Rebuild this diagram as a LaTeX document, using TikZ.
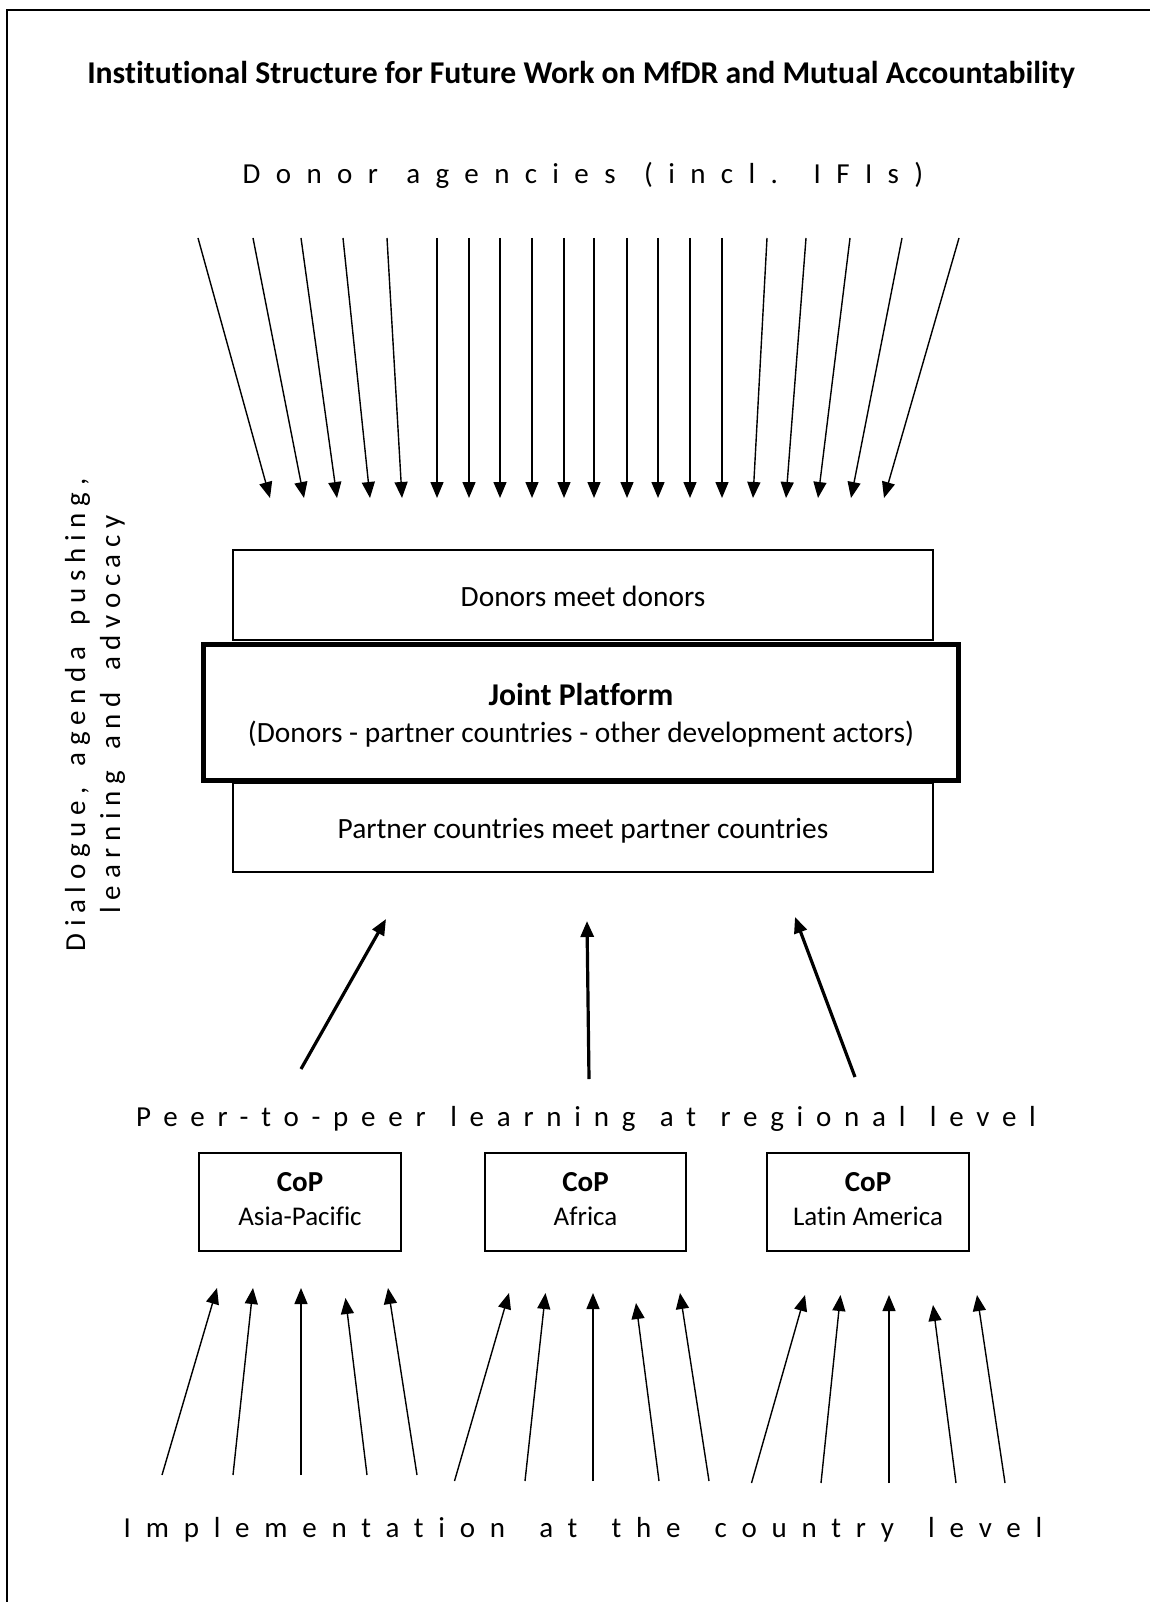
\documentclass[tikz,border=0pt]{standalone}
\usepackage{fontspec}
\setmainfont{Carlito}[RawFeature={-liga}]
\newfontfamily\spdonor[LetterSpace=53, WordSpace=1.3, RawFeature={-liga}]{Carlito}
\newfontfamily\sppeer[LetterSpace=44, WordSpace=1.27, RawFeature={-liga}]{Carlito}
\newfontfamily\spimpl[LetterSpace=51, WordSpace=1.6, RawFeature={-liga}]{Carlito}
\newfontfamily\spdial[LetterSpace=23, WordSpace=1.6, RawFeature={-liga}]{Carlito}
\usetikzlibrary{arrows.meta}
\tikzset{
  txt/.style={inner sep=0pt, anchor=base, font=\fontsize{29.4}{35}\selectfont},
  bigbold/.style={font=\fontsize{31.7}{38}\selectfont\bfseries},
  spaced/.style={inner sep=0pt, anchor=base, font=\fontsize{29}{35}\selectfont#1},
  box/.style={draw, line width=1.4pt, inner sep=0pt, fill=white},
  thinarrow/.style={line width=1.4pt, -{Triangle[length=16pt,width=13pt]}},
  thickarrow/.style={line width=3.2pt, -{Triangle[length=16pt,width=13pt]}},
}
\begin{document}
\begin{tikzpicture}[x=1pt,y=-1pt]
\useasboundingbox (0,0) rectangle (1150,1602);
\coordinate (frameA) at (7,1602);
\coordinate (frameB) at (7,10);
\coordinate (frameC) at (1150,10);
\draw[line width=2pt] (frameA) -- (frameB) -- (frameC);

% title and level labels
\node[txt, bigbold] (title) at (581,84) {Institutional Structure for Future Work on MfDR and Mutual Accountability};
\node[spaced=\spdonor] (donors) at (583,184) {Donor agencies (incl. IFIs)};
\node[spaced=\sppeer] (peer) at (586,1126) {Peer-to-peer learning at regional level};
\node[spaced=\spimpl] (impl) at (583,1537) {Implementation at the country level};
\node[spaced=\spdial, rotate=90] (dial1) at (85,715) {Dialogue, agenda pushing,};
\node[spaced=\spdial, rotate=90] (dial2) at (120,714.5) {learning and advocacy};

% top arrows
\foreach \i/\sx/\tx in {1/198/270, 2/253/304, 3/301/337, 4/343/370, 5/387/402,
  6/437/437, 7/469/469, 8/500/500, 9/532/532, 10/564/564, 11/594/594,
  12/627/627, 13/658/658, 14/690/690, 15/722/722, 16/767/753, 17/806/786,
  18/850/818, 19/902/851, 20/959/884} {
  \coordinate (ds\i) at (\sx,238);
  \coordinate (dt\i) at (\tx,498);
  \draw[thinarrow] (ds\i) -- (dt\i);
}

% platform boxes
\node[box, minimum width=700pt, minimum height=90pt] (dmd) at (583,595) {};
\node[box, minimum width=700pt, minimum height=89pt] (pmp) at (583,827.5) {};
\node[box, line width=5pt, minimum width=755pt, minimum height=136pt] (joint) at (581,712.5) {};
\node[txt] (dmdt) at (583,606) {Donors meet donors};
\node[txt, bigbold] (jointa) at (581,705) {Joint Platform};
\node[txt] (jointb) at (581,742) {(Donors - partner countries - other development actors)};
\node[txt] (pmpt) at (583,838) {Partner countries meet partner countries};

% thick arrows
\coordinate (ma1) at (301,1069); \coordinate (mb1) at (386,919);
\coordinate (ma2) at (589,1079); \coordinate (mb2) at (587,921);
\coordinate (ma3) at (855,1077); \coordinate (mb3) at (795,917);
\foreach \i in {1,2,3} { \draw[thickarrow] (ma\i) -- (mb\i); }

% CoP boxes
\node[box, minimum width=202pt, minimum height=98pt] (cop1) at (300,1202) {};
\node[box, minimum width=201pt, minimum height=98pt] (cop2) at (585.5,1202) {};
\node[box, minimum width=202pt, minimum height=98pt] (cop3) at (868,1202) {};
\tikzset{copname/.style={txt, font=\fontsize{29}{35}\selectfont\bfseries},
         copreg/.style={txt, font=\fontsize{27}{33}\selectfont}}
\node[copname] (cop1a) at (300,1191) {CoP};
\node[copreg] (cop1b) at (300,1225) {Asia-Pacific};
\node[copname] (cop2a) at (585.5,1191) {CoP};
\node[copreg] (cop2b) at (585.5,1225) {Africa};
\node[copname] (cop3a) at (868,1191) {CoP};
\node[copreg] (cop3b) at (868,1225) {Latin America};

% bottom arrows
\foreach \i/\sx/\sy/\tx/\ty in {
  1/162/1475/217/1288, 2/233/1475/253/1288, 3/301/1475/301/1288, 4/367/1475/345.5/1298, 5/417/1475/388/1288,
  6/454.5/1481/509/1293, 7/525/1481/545.5/1293, 8/593/1481/593/1293, 9/659/1481/636/1303, 10/709/1481/680/1293,
  11/751.5/1483/805/1295, 12/821/1483/840.5/1295, 13/889/1483/889/1295, 14/956/1483/933/1305, 15/1005/1483/977/1295} {
  \coordinate (us\i) at (\sx,\sy);
  \coordinate (ut\i) at (\tx,\ty);
  \draw[thinarrow] (us\i) -- (ut\i);
}
\end{tikzpicture}
\end{document}
